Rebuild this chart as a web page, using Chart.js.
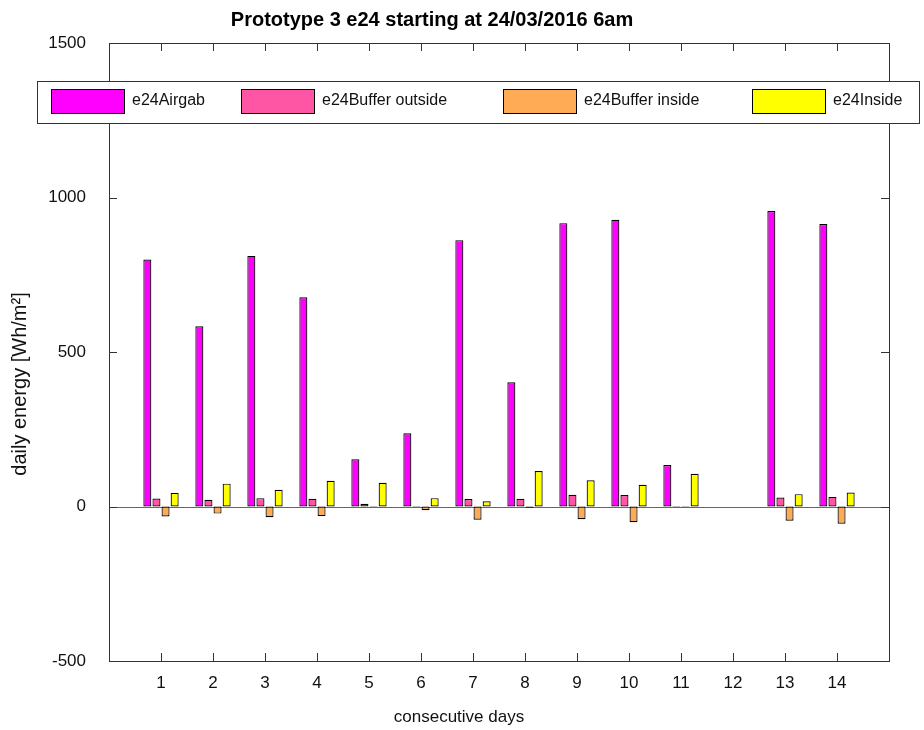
<!DOCTYPE html>
<html><head><meta charset="utf-8">
<script src="https://cdn.jsdelivr.net/npm/chart.js@4.4.1/dist/chart.umd.min.js"></script>
<style>html,body{margin:0;padding:0;background:#fff}#wrap{width:924px;height:730px}</style>
</head><body><div id="wrap"><canvas id="c" width="924" height="730"></canvas></div>
<script>
// ---- data ----
const titleText = 'Prototype 3 e24 starting at 24/03/2016 6am';
const xTitle = 'consecutive days';
const yTitle = 'daily energy [Wh/m\u00B2]';
const days = [1, 2, 3, 4, 5, 6, 7, 8, 9, 10, 11, 12, 13, 14];
const seriesNames = ['e24Airgab', 'e24Buffer outside', 'e24Buffer inside', 'e24Inside'];
const airgab         = [799, 583, 811, 677, 153, 237, 862, 402, 917, 928, 134, 0, 956, 914];
const bufferOutside  = [26, 22, 27, 25, 9, 2, 24, 25, 38, 37, 2, 0, 29, 31];
const bufferInside   = [-32, -23, -35, -31, -2, -12, -43, -4, -41, -51, 2, 0, -46, -56];
const inside         = [44, 74, 54, 83, 77, 27, 17, 115, 85, 70, 106, 0, 40, 45];
const yTicks = [-500, 0, 500, 1000, 1500];
const seriesColors = ['#ff00ff', '#ff55a5', '#ffaa55', '#ffff00'];

const allSeries = [airgab, bufferOutside, bufferInside, inside];
const paddedLabels = [''].concat(days.map(String), ['']);
const pad = arr => [null].concat(arr, [null]);

const FONT = "'Liberation Sans', Arial, Helvetica, sans-serif";

const decorPlugin = {
  id: 'decor',
  beforeDatasetsDraw(chart) {
    const {ctx, chartArea: a, scales: {y}} = chart;
    const y0 = Math.round(y.getPixelForValue(0)) + 0.5;
    ctx.save();
    ctx.strokeStyle = '#666';
    ctx.lineWidth = 1;
    ctx.beginPath(); ctx.moveTo(a.left, y0); ctx.lineTo(a.right, y0); ctx.stroke();
    ctx.restore();
  },
  afterDraw(chart) {
    const {ctx, chartArea: a, scales: {x, y}} = chart;
    ctx.save();
    // frame
    ctx.strokeStyle = '#333';
    ctx.lineWidth = 1;
    ctx.strokeRect(Math.round(a.left) + 0.5, Math.round(a.top) + 0.5, Math.round(a.right - a.left), Math.round(a.bottom - a.top));
    // ticks
    const tl = 8;
    ctx.beginPath();
    days.forEach((d, i) => {
      const px = Math.round(x.getPixelForValue(i + 1)) + 0.5;
      ctx.moveTo(px, a.bottom); ctx.lineTo(px, a.bottom - tl);
      ctx.moveTo(px, a.top); ctx.lineTo(px, a.top + tl);
    });
    yTicks.forEach(v => {
      const py = Math.round(y.getPixelForValue(v)) + 0.5;
      ctx.moveTo(a.left, py); ctx.lineTo(a.left + tl, py);
      ctx.moveTo(a.right, py); ctx.lineTo(a.right - tl, py);
    });
    ctx.stroke();

    // legend box
    ctx.fillStyle = '#fff';
    ctx.fillRect(37, 81, 882, 42);
    ctx.strokeStyle = '#333';
    ctx.strokeRect(37.5, 81.5, 882, 42);
    const swX = [51, 241, 503, 752];
    ctx.font = '16px ' + FONT;
    ctx.textBaseline = 'middle';
    ctx.textAlign = 'left';
    seriesNames.forEach((n, i) => {
      ctx.fillStyle = seriesColors[i];
      ctx.fillRect(swX[i], 89, 73, 24);
      ctx.strokeStyle = '#000';
      ctx.strokeRect(swX[i] + 0.5, 89.5, 73, 24);
      ctx.fillStyle = '#111';
      ctx.fillText(n, swX[i] + 81, 101);
    });

    // title
    ctx.fillStyle = '#000';
    ctx.font = 'bold 20px ' + FONT;
    ctx.textAlign = 'center';
    ctx.textBaseline = 'alphabetic';
    ctx.fillText(titleText, 432, 26);

    // x title
    ctx.fillStyle = '#111';
    ctx.font = '17px ' + FONT;
    ctx.fillText(xTitle, 459, 722);

    // y title
    ctx.translate(20, 384);
    ctx.rotate(-Math.PI / 2);
    ctx.font = '20px ' + FONT;
    ctx.textBaseline = 'middle';
    ctx.fillText(yTitle, 0, 0);
    ctx.restore();
  }
};

new Chart(document.getElementById('c'), {
  type: 'bar',
  data: {
    labels: paddedLabels,
    datasets: seriesNames.map((n, i) => ({
      label: n,
      data: pad(allSeries[i]),
      backgroundColor: seriesColors[i],
      borderColor: '#000',
      borderWidth: 1.2,
      borderSkipped: false,
      categoryPercentage: 0.7,
      barPercentage: 0.88
    }))
  },
  options: {
    responsive: false,
    animation: false,
    devicePixelRatio: 1,
    layout: {padding: {top: 43, right: 35, left: 0, bottom: 0}},
    plugins: {legend: {display: false}, title: {display: false}, tooltip: {enabled: false}},
    scales: {
      x: {
        type: 'category', offset: false,
        grid: {display: false, drawTicks: false},
        border: {display: false},
        ticks: {font: {size: 17, family: FONT}, color: '#111', padding: 12, autoSkip: false, maxRotation: 0},
        afterFit(s) { s.height = 69; }
      },
      y: {
        min: -500, max: 1500,
        afterBuildTicks(s) { s.ticks = yTicks.map(v => ({value: v})); },
        grid: {display: false, drawTicks: false},
        border: {display: false},
        ticks: {font: {size: 17, family: FONT}, color: '#111', padding: 23, callback: v => String(v)},
        afterFit(s) { s.width = 109; }
      }
    }
  },
  plugins: [decorPlugin]
});
</script>
</body></html>
